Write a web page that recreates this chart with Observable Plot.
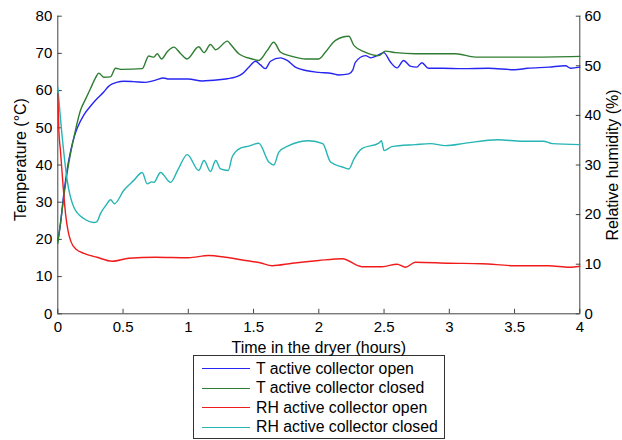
<!DOCTYPE html>
<html><head><meta charset="utf-8">
<script src="https://cdn.jsdelivr.net/npm/d3@7"></script>
<script src="https://cdn.jsdelivr.net/npm/@observablehq/plot@0.6"></script>
<style>
body{margin:0;background:#fff;font-family:"Liberation Sans",Arial,Helvetica,sans-serif;}
#chart svg{overflow:visible;display:block;}
#legend{margin-left:193px;width:252px;height:84px;border:1px solid #333;box-sizing:border-box;padding-top:3px;background:transparent;}
.row{height:19.5px;display:flex;align-items:center;font-size:15.8px;color:#000;white-space:nowrap;}
.sw{width:48px;height:0;border-top:1px solid;margin-left:8px;margin-right:6px;}
</style></head>
<body><div id="chart"></div><div id="legend"></div>
<script>
// Data (hours, value)
const xTicks = [0, 0.5, 1, 1.5, 2, 2.5, 3, 3.5, 4];
const tempTicks = [0, 10, 20, 30, 40, 50, 60, 70, 80];
const rhTicks = [0, 10, 20, 30, 40, 50, 60];

// Temperature (°C), active collector open
const tOpen = [[0,19.7],[0.02,24],[0.04,30.5],[0.06,36],[0.08,40.5],[0.1,44],[0.125,47.5],[0.15,50],[0.2,53.5],[0.25,55.8],[0.3,57.8],[0.352,59.6],[0.385,61],[0.417,61.8],[0.45,62.2],[0.506,62.5],[0.58,62.4],[0.672,62.2],[0.75,62.8],[0.81,63.4],[0.85,63.1],[0.92,63.1],[1.0,63.1],[1.106,62.6],[1.234,62.9],[1.3,63.2],[1.36,63.6],[1.413,64.5],[1.464,66.3],[1.515,67.9],[1.553,66.9],[1.59,65.9],[1.63,67.9],[1.707,68.8],[1.758,68.1],[1.82,66.3],[1.9,65.4],[2.0,64.9],[2.1,64.6],[2.153,64.2],[2.23,64.5],[2.26,65.5],[2.28,67.6],[2.358,69.4],[2.4,68.8],[2.447,69.4],[2.498,70.2],[2.55,67.6],[2.6,66.1],[2.65,68.1],[2.7,66.6],[2.75,66.3],[2.79,67.5],[2.84,66],[2.95,66],[3.1,65.9],[3.3,66],[3.5,65.6],[3.6,66],[3.76,66.3],[3.89,66.7],[3.93,66],[4.0,66.3]];

// Temperature (°C), active collector closed
const tClosed = [[0,18.9],[0.03,27],[0.072,38],[0.1,43.5],[0.13,48.5],[0.174,54.7],[0.21,57.5],[0.25,60.5],[0.29,63.5],[0.314,64.7],[0.352,63.6],[0.404,63.7],[0.442,66],[0.493,65.7],[0.647,65.9],[0.697,69.3],[0.736,69],[0.762,69.9],[0.795,68.5],[0.84,70.5],[0.889,71.7],[0.94,70],[0.99,68.5],[1.08,71.8],[1.12,70.2],[1.17,72.4],[1.21,71],[1.3,73.3],[1.32,72.6],[1.387,69.9],[1.49,68.5],[1.54,68.1],[1.605,70.8],[1.655,73],[1.707,70.3],[1.796,69.2],[1.9,68.5],[2.0,68.5],[2.05,70.3],[2.128,73.5],[2.23,74.6],[2.27,72.1],[2.358,70.3],[2.46,69.4],[2.51,70.6],[2.59,70.2],[2.74,69.9],[3.05,69.9],[3.2,69],[3.6,69],[4.0,69.2]];

// Relative humidity (%), active collector open
const rhOpen = [[0,44.5],[0.008,37],[0.02,33],[0.04,26],[0.06,20],[0.08,16.5],[0.1,14.6],[0.14,13],[0.2,12.2],[0.3,11.4],[0.417,10.6],[0.544,11.2],[0.749,11.4],[1.0,11.3],[1.157,11.75],[1.285,11.4],[1.438,10.75],[1.55,10.3],[1.643,9.7],[1.796,10.2],[2.0,10.75],[2.18,11.1],[2.33,9.5],[2.486,9.5],[2.6,10],[2.664,9.4],[2.74,10.4],[3.0,10.2],[3.25,10.1],[3.5,9.7],[3.76,9.7],[3.92,9.4],[4.0,9.6]];

// Relative humidity (%), active collector closed
const rhClosed = [[0,45.7],[0.034,35.6],[0.072,26.9],[0.123,21.5],[0.2,19.2],[0.276,18.4],[0.3,18.6],[0.327,20.2],[0.37,21.9],[0.404,23],[0.434,22.2],[0.506,24.9],[0.582,26.9],[0.647,28.5],[0.685,26.2],[0.72,26.6],[0.736,26.5],[0.787,28.5],[0.864,26.5],[0.92,29],[0.992,32.1],[1.08,28.9],[1.12,30.9],[1.17,28.7],[1.21,30.9],[1.247,29.2],[1.306,28.9],[1.336,31.6],[1.4,33.4],[1.464,33.8],[1.54,34.4],[1.617,30.6],[1.655,30],[1.694,32.6],[1.77,33.9],[1.924,34.9],[2.03,34.3],[2.09,30.6],[2.18,29.6],[2.23,29.2],[2.27,31.25],[2.33,33.3],[2.46,34.4],[2.48,34.9],[2.5,32.9],[2.56,33.7],[2.74,34.1],[2.856,34.3],[2.97,33.9],[3.124,34.4],[3.37,35.1],[3.56,34.8],[3.72,34.8],[3.79,34.3],[4.0,34.1]];

const seriesNames = ["T active collector open","T active collector closed","RH active collector open","RH active collector closed"];
const colors = ["#2626f2","#2f7d32","#f01c1c","#26b4b4"];

const rhToT = r => r * 80 / 60;
const axisColor = "#444";
const font = "Liberation Sans, Arial, Helvetica, sans-serif";
const curve = "monotone-x";

const chart = Plot.plot({
  width: 622, height: 355,
  marginLeft: 57.3, marginRight: 42.7, marginTop: 15.7, marginBottom: 41.7,
  style: {fontFamily: font, fontSize: "15px", color: "#000", background: "#fff", overflow: "visible"},
  x: {domain: [0, 4]},
  y: {domain: [0, 80]},
  marks: [
    Plot.ruleX([0, 4], {stroke: axisColor, strokeWidth: 1}),
    Plot.ruleY([0], {stroke: axisColor, strokeWidth: 1}),
    Plot.axisX(xTicks, {tickSize: -4.5, tickPadding: 12, stroke: axisColor, fill: "#000", tickFormat: d => String(d), label: null}),
    Plot.axisY(tempTicks, {anchor: "left", tickSize: -4.5, tickPadding: 10, stroke: axisColor, fill: "#000", tickFormat: d => String(d), label: null}),
    Plot.axisY(rhTicks.map(rhToT), {anchor: "right", tickSize: -4.5, tickPadding: 9.2, stroke: axisColor, fill: "#000", tickFormat: d => String(Math.round(d * 60 / 80)), label: null}),
    Plot.line(tOpen, {x: d => d[0], y: d => d[1], stroke: colors[0], strokeWidth: 1.4, curve}),
    Plot.line(tClosed, {x: d => d[0], y: d => d[1], stroke: colors[1], strokeWidth: 1.4, curve}),
    Plot.line(rhClosed, {x: d => d[0], y: d => rhToT(d[1]), stroke: colors[3], strokeWidth: 1.4, curve}),
    Plot.line(rhOpen, {x: d => d[0], y: d => rhToT(d[1]), stroke: colors[2], strokeWidth: 1.4, curve}),
    Plot.text(["Time in the dryer (hours)"], {frameAnchor: "bottom", dy: 34.4, fontSize: 16, fill: "#000", textAnchor: "middle", lineAnchor: "middle"}),
    Plot.text(["Temperature (°C)"], {frameAnchor: "left", dx: -37, dy: -5.5, rotate: -90, fontSize: 16, fill: "#000", textAnchor: "middle", lineAnchor: "middle"}),
    Plot.text(["Relative humidity (%)"], {frameAnchor: "right", dx: 33.5, rotate: -90, fontSize: 16, fill: "#000", textAnchor: "middle", lineAnchor: "middle"})
  ]
});
document.getElementById("chart").appendChild(chart);

const legend = document.getElementById("legend");
seriesNames.forEach((name, i) => {
  const row = document.createElement("div");
  row.className = "row";
  const sw = document.createElement("div");
  sw.className = "sw";
  sw.style.borderTopColor = colors[i];
  const tx = document.createElement("span");
  tx.textContent = name;
  row.appendChild(sw); row.appendChild(tx);
  legend.appendChild(row);
});
</script></body></html>
